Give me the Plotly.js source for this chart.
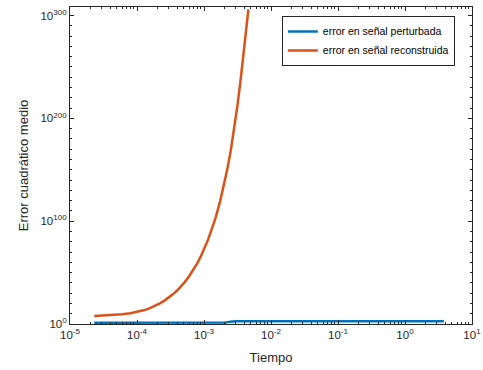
<!DOCTYPE html>
<html><head><meta charset="utf-8">
<script src="https://cdn.plot.ly/plotly-3.0.1.min.js"></script>
<style>html,body{margin:0;padding:0;background:#fff;}#chart{width:483px;height:370px;}</style>
</head><body><div id="chart"></div>
<script>
// Series 1: error en señal perturbada
const tPert = [2.3e-5, 5e-5, 1e-4, 2e-4, 5e-4, 8e-4, 1e-3, 1.3e-3, 1.7e-3, 2.1e-3, 2.5e-3, 3e-3, 5e-3, 1e-2, 3e-2, 1e-1, 3e-1, 1, 2, 3.8];
const ePert = [16, 16, 16, 16, 16, 12, 8, 6, 6, 30, 200, 500, 500, 500, 500, 500, 500, 500, 500, 500];
// Series 2: error en señal reconstruida (log10 of error)
const tRec = [2.3e-5, 4e-5, 6e-5, 8e-5, 1.0e-4, 1.25e-4, 1.5e-4, 1.8e-4, 2.2e-4, 2.6e-4, 3.0e-4, 3.5e-4, 4.0e-4, 4.5e-4, 5.2e-4, 6e-4, 7e-4, 8e-4, 9e-4, 1.0e-3, 1.15e-3, 1.3e-3, 1.5e-3, 1.75e-3, 2.0e-3, 2.25e-3, 2.5e-3, 2.8e-3, 3.15e-3, 3.5e-3, 4.0e-3, 4.6e-3];
const log10Rec = [7.8, 8.5, 9.4, 10.4, 11.6, 13.3, 15.0, 17.2, 20.0, 23.0, 25.8, 29.3, 32.8, 36.3, 41, 46.5, 53, 59.5, 66, 72.5, 82, 92, 104, 120, 136, 152, 168, 188, 212, 236, 270, 306];
const eRec = log10Rec.map(p => Math.pow(10, p));

const seriesNames = ['error en señal perturbada', 'error en señal reconstruida'];
const xTickVals = [1e-5, 1e-4, 1e-3, 1e-2, 1e-1, 1e0, 1e1];
const xTickText = ['10<sup>-5</sup>', '10<sup>-4</sup>', '10<sup>-3</sup>', '10<sup>-2</sup>', '10<sup>-1</sup>', '10<sup>0</sup>', '10<sup>1</sup>'];
const yTickVals = [1, 1e100, 1e200, 1e300];
const yTickText = ['10<sup>0</sup>', '10<sup>100</sup>', '10<sup>200</sup>', '10<sup>300</sup>'];

const xMinor = [];
for (let d = -5; d < 1; d++) for (let k = 2; k <= 9; k++) xMinor.push(k * Math.pow(10, d));
const yMinor = [];
for (let p = 10; p <= 300; p += 10) if (p % 100 !== 0) yMinor.push(Math.pow(10, p));

const ink = '#262626';
const font = {family: 'Liberation Sans, Arial, sans-serif', size: 11, color: ink};

const traces = [
  {x: tPert, y: ePert, type: 'scatter', mode: 'lines', name: seriesNames[0], line: {color: '#0072BD', width: 2.5}},
  {x: tRec, y: eRec, type: 'scatter', mode: 'lines', name: seriesNames[1], line: {color: '#D95319', width: 2.5}}
];

const axisCommon = {
  type: 'log', showgrid: false, zeroline: false, showline: true, linecolor: ink, linewidth: 1,
  mirror: 'ticks', ticks: 'inside', ticklen: 4, tickcolor: ink, tickwidth: 1,
  tickfont: {family: font.family, size: 11.5, color: ink}, tickmode: 'array'
};

const layout = {
  width: 483, height: 370,
  margin: {l: 70, r: 11, t: 7, b: 46},
  paper_bgcolor: '#fff', plot_bgcolor: '#fff',
  font: font,
  showlegend: true,
  legend: {x: 0.527, y: 0.972, xanchor: 'left', yanchor: 'top', bgcolor: '#fff', bordercolor: ink, borderwidth: 1,
           font: {family: font.family, size: 10.5, color: '#000'}, tracegroupgap: 0, itemwidth: 30},
  xaxis: Object.assign({}, axisCommon, {
    range: [-5, 1], tickvals: xTickVals, ticktext: xTickText,
    minor: {tickmode: 'array', tickvals: xMinor, ticks: 'inside', ticklen: 2, tickcolor: ink},
    title: {text: 'Tiempo', font: {family: font.family, size: 13, color: ink}, standoff: 13}
  }),
  yaxis: Object.assign({}, axisCommon, {
    range: [0, 308.25], tickvals: yTickVals, ticktext: yTickText,
    minor: {tickmode: 'array', tickvals: yMinor, ticks: 'inside', ticklen: 2, tickcolor: ink},
    title: {text: 'Error cuadrático medio', font: {family: font.family, size: 13, color: ink}, standoff: 8}
  })
};

Plotly.newPlot('chart', traces, layout, {staticPlot: true, displayModeBar: false});
</script></body></html>
